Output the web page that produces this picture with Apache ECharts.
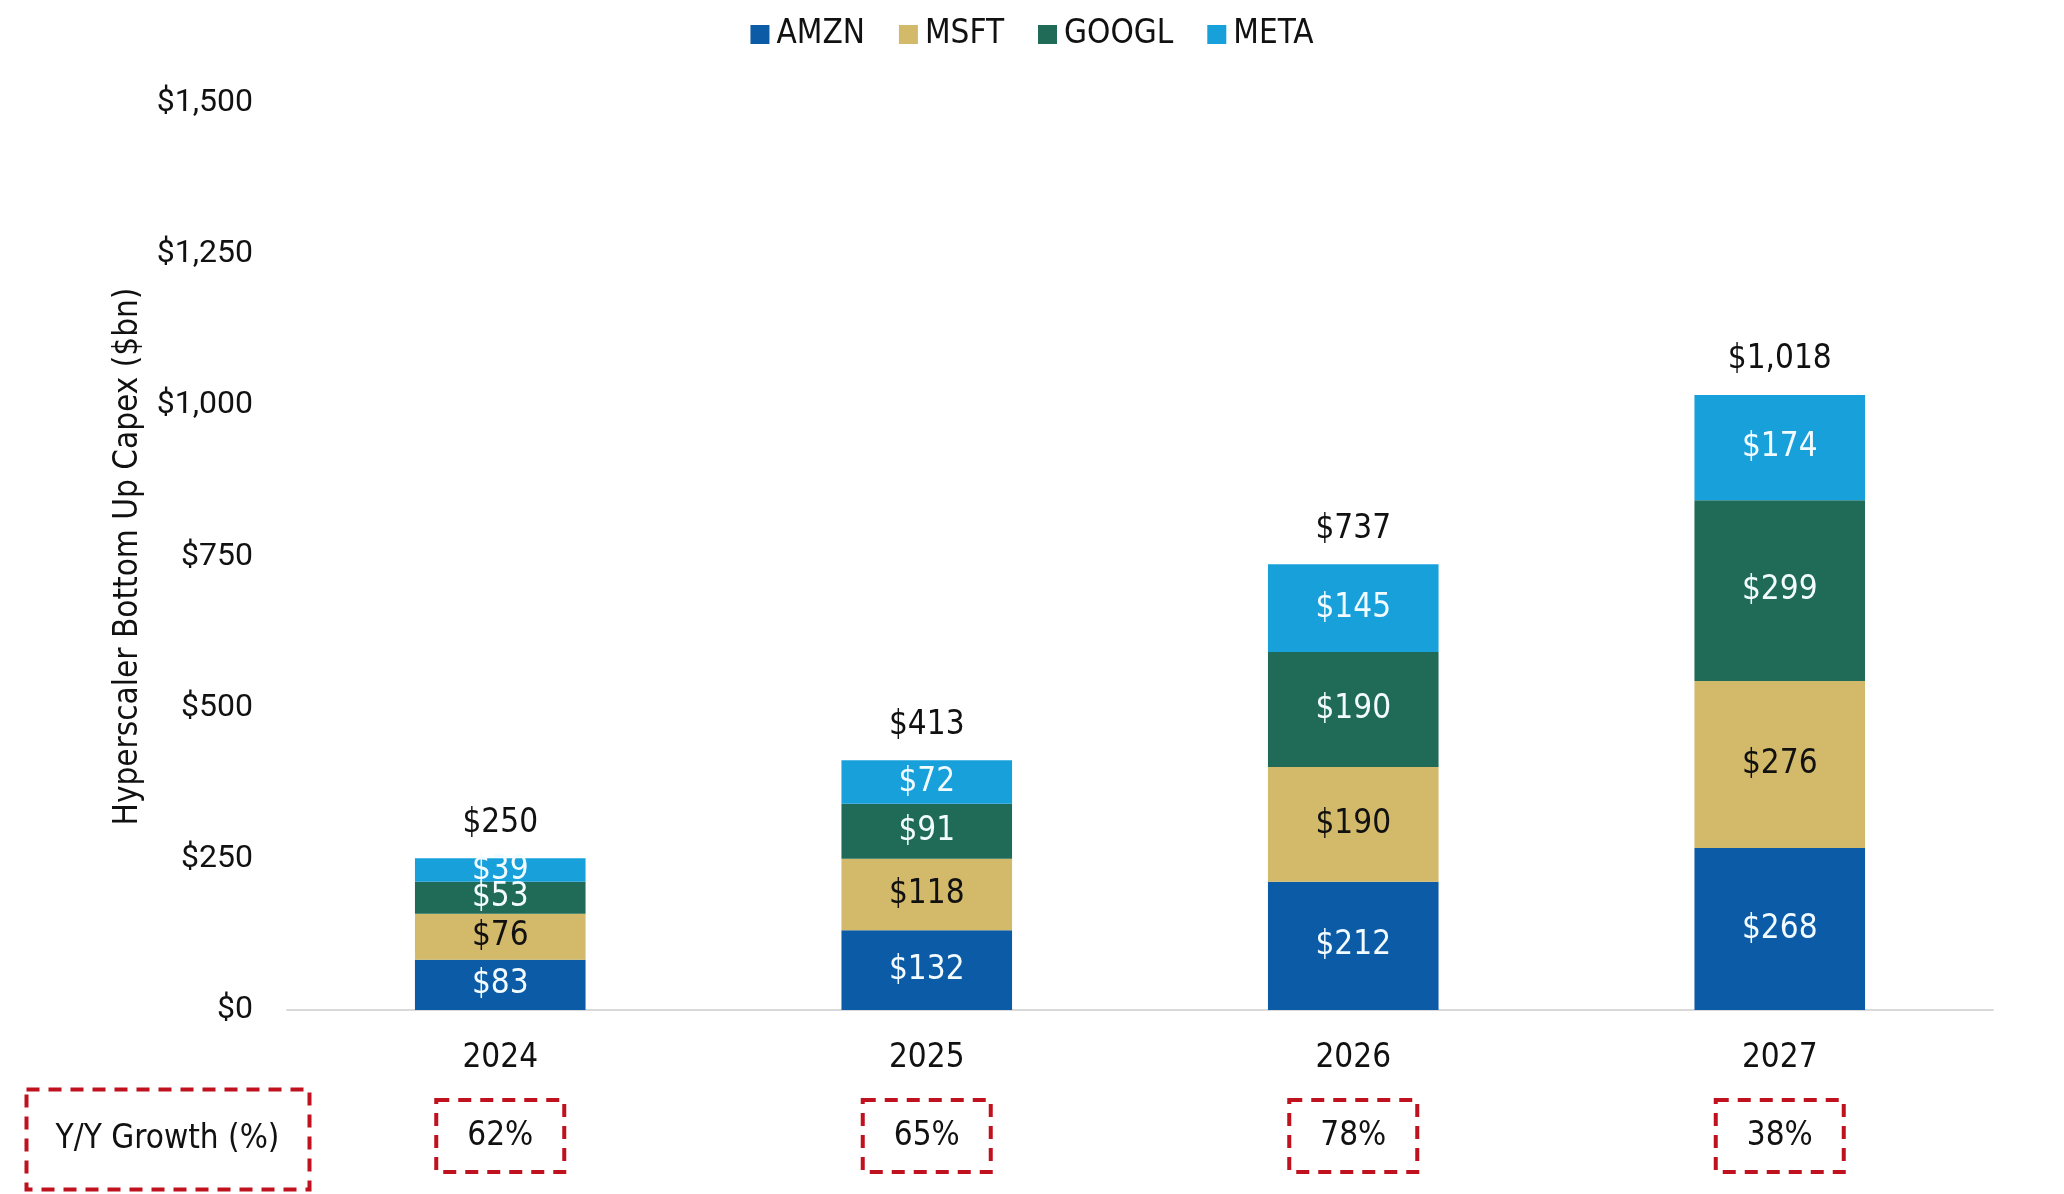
<!DOCTYPE html>
<html>
<head>
<meta charset="utf-8">
<script src="https://cdn.jsdelivr.net/npm/echarts@6/dist/echarts.min.js"></script>
<style>
  html, body { margin: 0; padding: 0; background: #fff; }
  #chart { width: 2064px; height: 1194px; }
</style>
</head>
<body>
<div id="chart"></div>
<script>
// data
const years = ['2024', '2025', '2026', '2027'];
const amzn = [83, 132, 212, 268];
const msft = [76, 118, 190, 276];
const googl = [53, 91, 190, 299];
const meta = [39, 72, 145, 174];
const totals = [250, 413, 737, 1018];
const growth = ['62%', '65%', '78%', '38%'];
const yTicks = [0, 250, 500, 750, 1000, 1250, 1500];

const narrow = "'Liberation Sans Narrow', 'DejaVu Sans Condensed', sans-serif";
const boxRed = '#C0111F';

const money = v => '$' + Math.round(v).toLocaleString('en-US');

const segLabel = (color) => ({
  show: true,
  position: 'inside',
  color: color,
  fontFamily: narrow,
  fontSize: 33,
  formatter: p => money(p.value)
});

const mkBar = (name, data, color, labelColor) => ({
  name: name,
  type: 'bar',
  stack: 'capex',
  barWidth: '40%',
  data: data,
  itemStyle: { color: color },
  label: segLabel(labelColor)
});

var chartDom = document.getElementById('chart');
var myChart = echarts.init(chartDom);

var option = {
  animation: false,
  legend: {
    top: 13,
    left: 'center',
    itemWidth: 19,
    itemHeight: 19,
    itemGap: 34,
    icon: 'rect',
    data: ['AMZN', 'MSFT', 'GOOGL', 'META'],
    textStyle: { color: '#111', fontSize: 33, fontFamily: narrow, padding: [0, 0, 0, 2] }
  },
  grid: {
    left: 287,
    right: 71,
    top: 103,
    bottom: 184,
    containLabel: false
  },
  xAxis: {
    type: 'category',
    data: years,
    axisLine: { lineStyle: { color: '#D9D9D9', width: 2 } },
    axisTick: { show: false },
    axisLabel: {
      margin: 6,
      interval: 0,
      formatter: (v, i) => '{y|' + v + '}\n{g|' + growth[i] + '}',
      rich: {
        y: { fontSize: 33, fontFamily: narrow, color: '#111', lineHeight: 84 },
        g: {
          fontSize: 33, fontFamily: narrow, color: '#111',
          width: 128, height: 72, align: 'center', verticalAlign: 'middle',
          borderColor: boxRed, borderWidth: 4, borderType: [13, 9]
        }
      }
    }
  },
  yAxis: {
    type: 'value',
    min: yTicks[0],
    max: yTicks[yTicks.length - 1],
    interval: 250,
    name: 'Hyperscaler Bottom Up Capex ($bn)',
    nameLocation: 'middle',
    nameGap: 142,
    nameTextStyle: { fontSize: 33, fontFamily: narrow, color: '#111' },
    axisLine: { show: false },
    axisTick: { show: false },
    splitLine: { show: false },
    axisLabel: {
      margin: 34,
      fontSize: 32,
      fontFamily: 'Roboto, Arial, sans-serif',
      color: '#111',
      formatter: v => money(v)
    }
  },
  series: [
    mkBar('AMZN', amzn, '#0B5BA6', '#F2FBFF'),
    mkBar('MSFT', msft, '#D3B96A', '#111'),
    mkBar('GOOGL', googl, '#1F6B57', '#F2FBFF'),
    mkBar('META', meta, '#18A0DB', '#F2FBFF'),
    {
      name: 'Total',
      type: 'scatter',
      data: totals,
      symbolSize: 1,
      itemStyle: { color: 'transparent', opacity: 1 },
      silent: true,
      z: 5,
      label: {
        show: true,
        position: 'top',
        distance: 18,
        color: '#111',
        opacity: 1,
        fontFamily: narrow,
        fontSize: 33,
        formatter: p => money(p.value)
      }
    }
  ],
  graphic: [
    {
      type: 'group',
      left: 24,
      top: 1087,
      children: [
        {
          type: 'rect',
          shape: { x: 0, y: 0, width: 283, height: 100 },
          style: { fill: 'none', stroke: boxRed, lineWidth: 4, lineDash: [13, 9] }
        },
        {
          type: 'text',
          x: 141,
          y: 50,
          style: {
            text: 'Y/Y Growth (%)',
            fill: '#111',
            fontSize: 33,
            fontFamily: narrow,
            align: 'center',
            verticalAlign: 'middle'
          }
        }
      ]
    }
  ]
};

option && myChart.setOption(option);
</script>
</body>
</html>
